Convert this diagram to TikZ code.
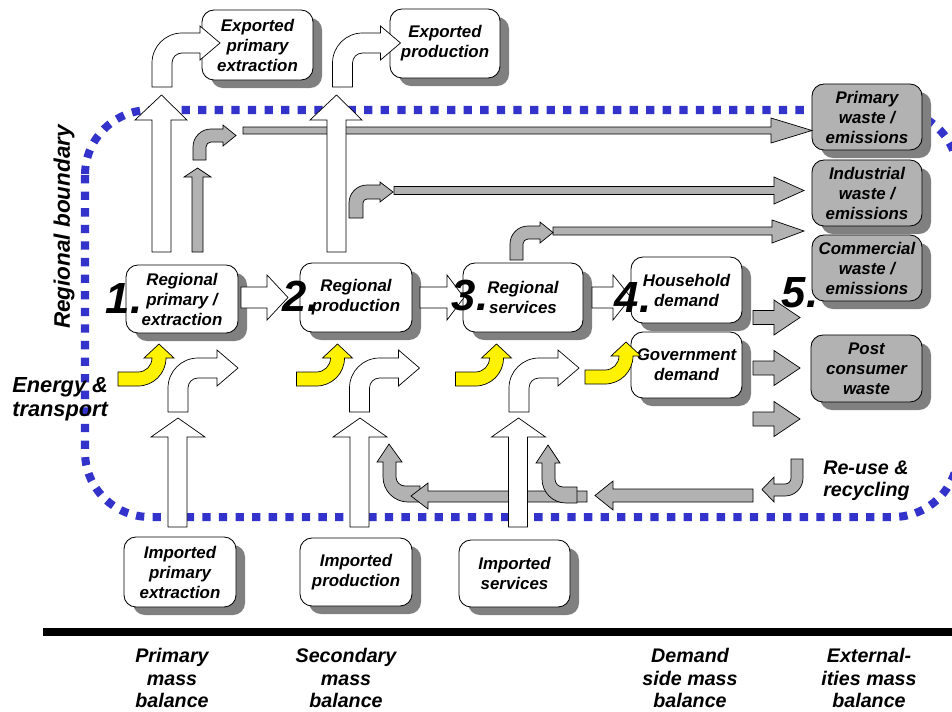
\documentclass[tikz,border=0pt]{standalone}
\usepackage{fontspec}
\setmainfont{Liberation Sans}
\usetikzlibrary{shadows}
\definecolor{wastegray}{HTML}{B2B2B2}
\definecolor{shadowgray}{HTML}{808080}
\definecolor{bndblue}{HTML}{3333CC}
\newcommand{\boxfont}{\fontsize{12}{14.2}\selectfont\bfseries\itshape}
\newcommand{\numfont}{\fontsize{31}{31}\selectfont\bfseries\itshape}
\tikzset{
    flow_box/.style={draw=black, line width=0.6pt, rounded corners=0.3cm, fill=white, align=center, font=\boxfont, inner sep=1pt,
        general shadow={fill=shadowgray, shadow xshift=0.225cm, shadow yshift=-0.2cm}},
    waste_box/.style={flow_box, fill=wastegray},
    white_arrow/.style={draw=black, line width=0.5pt, fill=white},
    gray_arrow/.style={draw=black, line width=0.5pt, fill=wastegray},
    yellow_arrow/.style={draw=black, line width=0.5pt, fill=yellow},
    boundary_line/.style={draw=bndblue, line width=5.7pt, dash pattern=on 5.9pt off 5.9pt},
    num_label/.style={font=\numfont, inner sep=0pt},
    side_label/.style={font=\fontsize{15.5}{17}\selectfont\bfseries\itshape, align=left, inner sep=0pt},
    foot_label/.style={font=\fontsize{14}{16}\selectfont\bfseries\itshape, align=center, inner sep=0pt}
}
\begin{document}
\begin{tikzpicture}[x=0.025cm, y=-0.025cm]
    \useasboundingbox (0,0) rectangle (952,711);
    \clip (0,0) rectangle (952,711);
    % regional boundary
    \draw[boundary_line, rounded corners=1.625cm] (85,110) rectangle (958,517);
    % boxes
    \node[flow_box, minimum width=2.775cm, minimum height=1.75cm] (exp_prim) at (257.5,45) {Exported\\primary\\extraction};
    \node[flow_box, minimum width=2.75cm, minimum height=1.725cm] (exp_prod) at (445,43.5) {Exported\\production};
    \node[waste_box, minimum width=2.75cm, minimum height=1.65cm] (waste_prim) at (867,117) {Primary\\waste /\\emissions};
    \node[waste_box, minimum width=2.75cm, minimum height=1.65cm] (waste_ind) at (867,193) {Industrial\\waste /\\emissions};
    \node[waste_box, minimum width=2.75cm, minimum height=1.65cm] (waste_com) at (867,268) {Commercial\\waste /\\emissions};
    \node[waste_box, minimum width=2.775cm, minimum height=1.675cm] (waste_post) at (866.5,368.5) {Post\\consumer\\waste};
    \node[flow_box, minimum width=2.8cm, minimum height=1.7cm] (reg_prim) at (182,299) {Regional\\primary /\\extraction};
    \node[flow_box, minimum width=2.8cm, minimum height=1.725cm] (reg_prod) at (356,297.5) {Regional\\production};
    \node[flow_box, minimum width=3.0cm, minimum height=1.725cm] (reg_serv) at (523,297.5) {Regional\\services};
    \node[flow_box, minimum width=2.775cm, minimum height=1.65cm] (dem_house) at (686.5,290) {Household\\demand};
    \node[flow_box, minimum width=2.775cm, minimum height=1.65cm] (dem_gov) at (686.5,365) {Government\\demand};
    \node[flow_box, minimum width=2.8cm, minimum height=1.75cm] (imp_prim) at (180,572) {Imported\\primary\\extraction};
    \node[flow_box, minimum width=2.8cm, minimum height=1.7cm] (imp_prod) at (356,572) {Imported\\production};
    \node[flow_box, minimum width=2.775cm, minimum height=1.675cm] (imp_serv) at (514.5,573.5) {Imported\\services};
    % waste streams
    \draw[gray_arrow] (243,127) -- (771,127) -- (771,118) -- (812,130.5) -- (771,143) -- (771,134) -- (243,134) -- cycle;
    \draw[gray_arrow] (394,186.5) -- (774,186.5) -- (774,177) -- (804,190.5) -- (774,204) -- (774,194.5) -- (394,194.5) -- cycle;
    \draw[gray_arrow] (553,227) -- (772,227) -- (772,220) -- (804,231) -- (772,243) -- (772,235) -- (553,235) -- cycle;
    \draw[gray_arrow] (192,252) -- (192,177) -- (184,177) -- (197.5,168) -- (211,177) -- (203,177) -- (203,252) -- cycle;
    \draw[gray_arrow] (193,160) -- (193,147) arc(180:270:18) -- (223,129) -- (223,125) -- (236,135.5) -- (223,146) -- (223,142) -- (211,142) arc(270:180:5) -- (206,160) -- cycle;
    \draw[gray_arrow] (349,218) -- (349,203) arc(180:270:18) -- (380,185) -- (380,182) -- (393,192) -- (380,202) -- (380,199) -- (367,199) arc(270:180:4) -- (363,218) -- cycle;
    \draw[gray_arrow] (510,260) -- (510,244) arc(180:270:18) -- (540,226) -- (540,222) -- (553,232.5) -- (540,243) -- (540,239) -- (528,239) arc(270:180:5) -- (523,260) -- cycle;
    % exports
    \foreach \dx in {0,175} {
        \begin{scope}[shift={(\dx,0)}]
            \draw[white_arrow] (152,252) -- (152,120) -- (135,120) -- (161.5,95) -- (187,120) -- (171,120) -- (171,252) -- cycle;
        \end{scope}
    }
    \foreach \dx in {0,180.5} {
        \begin{scope}[shift={(\dx,0)}]
            \draw[white_arrow] (152,87) -- (152,63) arc(180:270:30) -- (200,33) -- (200,26) -- (220,43) -- (200,60) -- (200,53) -- (182,53) arc(270:180:10) -- (172,87) -- cycle;
        \end{scope}
    }
    % main chain
    \foreach \xa/\xb/\xc in {241/267/288, 420/447/464, 592/613/631}
        \draw[white_arrow] (\xa,287) -- (\xb,287) -- (\xb,275) -- (\xc,297.5) -- (\xb,320) -- (\xb,308) -- (\xa,308) -- cycle;
    \foreach \yy in {317.5,368,419}
        \draw[gray_arrow] (753,\yy-7) -- (774,\yy-7) -- (774,\yy-17.5) -- (800,\yy) -- (774,\yy+17.5) -- (774,\yy+7) -- (753,\yy+7) -- cycle;
    % re-use and recycling
    \draw[gray_arrow] (803,459) -- (803,478) arc(0:90:18) -- (774,496) -- (774,502) -- (762,489.5) -- (774,477) -- (774,484) -- (785,484) arc(90:0:6) -- (791,459) -- cycle;
    \draw[gray_arrow] (753,489) -- (613,489) -- (613,481) -- (595,495.5) -- (613,510) -- (613,502) -- (753,502) -- cycle;
    \draw[gray_arrow] (383,477) -- (383,462) -- (377,462) -- (389,444) -- (402,462) -- (396,462) -- (396,477) arc(180:90:9) -- (420,486) -- (420,502) -- (408,502) arc(90:180:25) -- cycle;
    \draw[gray_arrow] (587,491) -- (428,491) -- (428,483) -- (411,496) -- (428,509) -- (428,502) -- (587,502) -- cycle;
    \draw[gray_arrow] (542,479) -- (542,463) -- (536,463) -- (548,445) -- (560,463) -- (555,463) -- (555,479) arc(180:90:8) -- (577,487) -- (577,503) -- (566,503) arc(90:180:24) -- cycle;
    % imports
    \foreach \dx in {0,182,340.5} {
        \begin{scope}[shift={(\dx,0)}]
            \draw[white_arrow] (168,527) -- (168,437) -- (151,437) -- (178,418) -- (205,437) -- (187,437) -- (187,527) -- cycle;
        \end{scope}
    }
    \foreach \dx in {0,181.5,341} {
        \begin{scope}[shift={(\dx,0)}]
            \draw[white_arrow] (168,412) -- (168,388) arc(180:270:30) -- (217,358) -- (217,350) -- (238,368) -- (217,386) -- (217,378) -- (198,378) arc(270:180:10) -- (188,412) -- cycle;
        \end{scope}
    }
    % energy and transport
    \foreach \dx/\dy in {0/0, 178.5/0, 337.5/0, 467/-2} {
        \begin{scope}[shift={(\dx,\dy)}]
            \draw[yellow_arrow] (118,372) -- (138,372) arc(90:0:14) -- (152,358) -- (144,358) -- (159,344) -- (174,358) -- (166,358) arc(0:90:28) -- (118,386) -- cycle;
        \end{scope}
    }
    % labels
    \foreach \n/\xx/\yy in {1/124/298, 2/301/296, 3/470/295, 4/633/297, 5/800/293}
        \node[num_label] (num\n) at (\xx,\yy) {\n.};
    \node[side_label, rotate=90, font=\fontsize{16}{18}\selectfont\bfseries\itshape] (bnd_lbl) at (64,227) {Regional boundary};
    \node[side_label, anchor=west] (energy_lbl) at (12,399) {Energy \&\\transport};
    \node[side_label, anchor=west, font=\fontsize{14}{15.6}\selectfont\bfseries\itshape] (reuse_lbl) at (823,481) {Re-use \&\\recycling};
    % mass balances
    \draw[line width=5.7pt] (43,632) -- (952,632);
    \node[foot_label] (bal_prim) at (172,678) {Primary\\mass\\balance};
    \node[foot_label] (bal_sec) at (346,678) {Secondary\\mass\\balance};
    \node[foot_label] (bal_dem) at (690,678) {Demand\\side mass\\balance};
    \node[foot_label] (bal_ext) at (869,678) {External-\\ities mass\\balance};
\end{tikzpicture}
\end{document}
